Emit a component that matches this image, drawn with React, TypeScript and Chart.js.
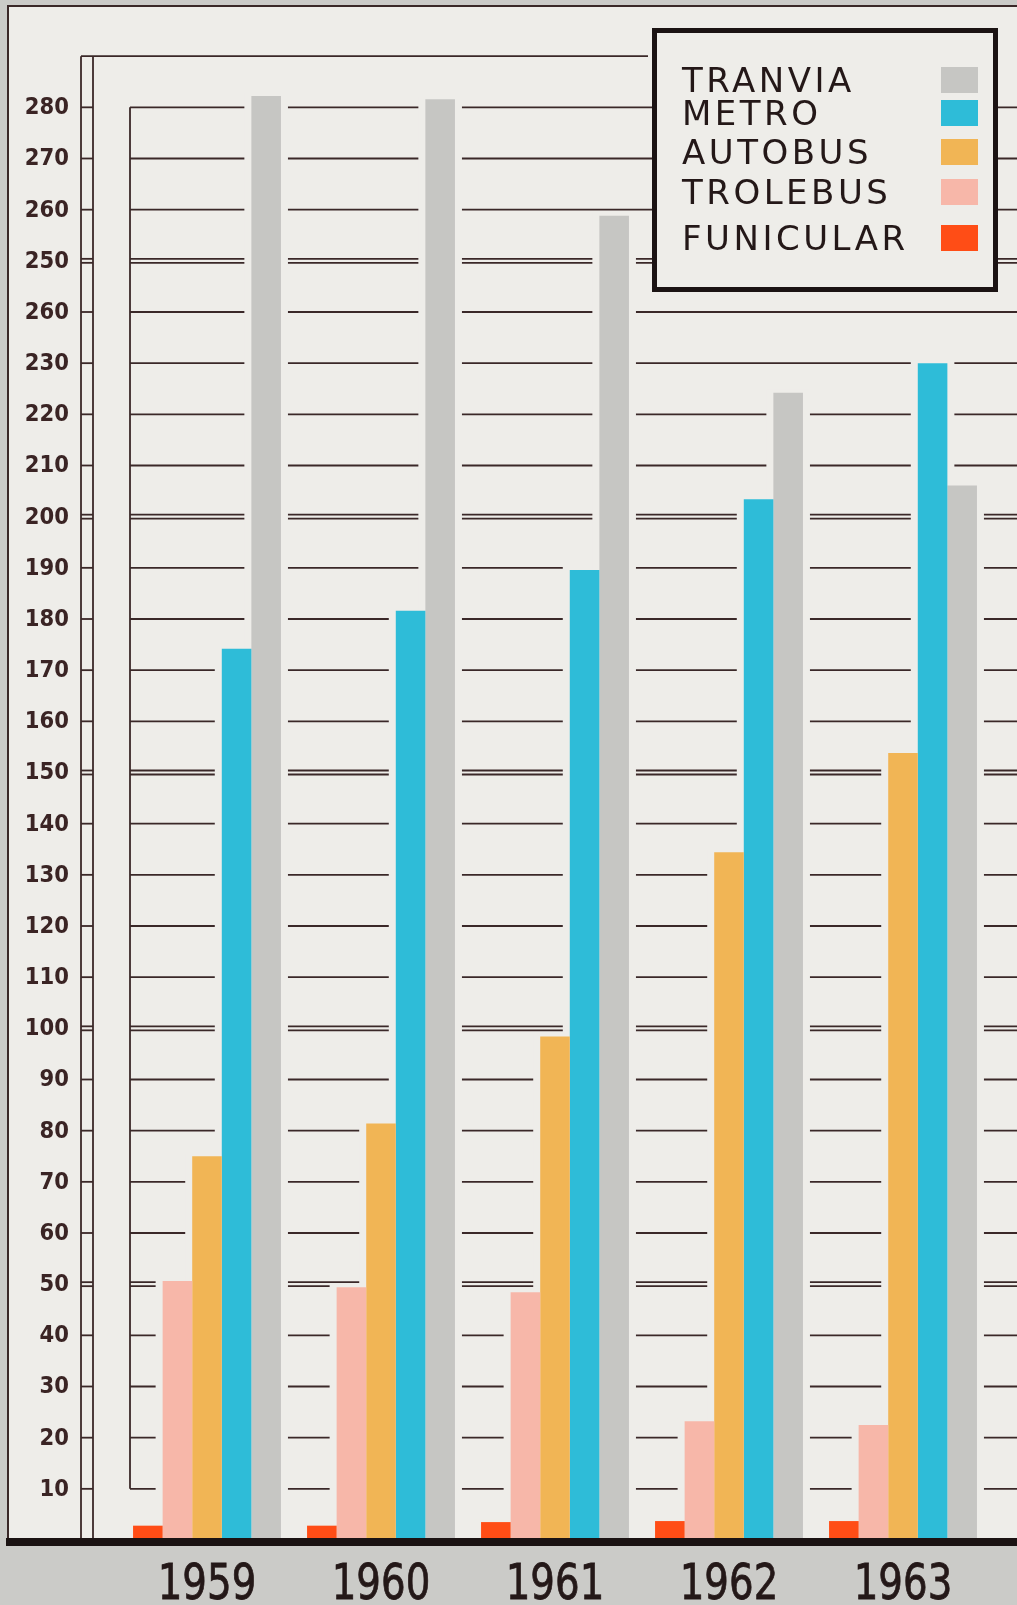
import React, { useEffect, useRef } from "react";
import { Chart, registerables } from "chart.js";

Chart.register(...registerables);

// ---------- data ----------
const years = ["1959", "1960", "1961", "1962", "1963"];
const funicular = [2.8, 2.8, 3.5, 3.7, 3.7];
const trolebus = [50.6, 49.4, 48.4, 23.2, 22.5];
const autobus = [75.0, 81.4, 98.4, 134.4, 153.8];
const metro = [174.2, 181.6, 189.6, 203.4, 230.0];
const tranvia = [282.2, 281.6, 258.8, 224.2, 206.1];

const seriesNames = ["FUNICULAR", "TROLEBUS", "AUTOBUS", "METRO", "TRANVIA"];
const seriesColors = ["#ff4d16", "#f7b7a9", "#f1b555", "#2ebcd8", "#c6c6c3"];

const yTickValues = [10, 20, 30, 40, 50, 60, 70, 80, 90, 100, 110, 120, 130, 140, 150, 160, 170, 180, 190, 200, 210, 220, 230, 240, 250, 260, 270, 280];
const yTickLabels = ["10", "20", "30", "40", "50", "60", "70", "80", "90", "100", "110", "120", "130", "140", "150", "160", "170", "180", "190", "200", "210", "220", "230", "260", "250", "260", "270", "280"];
const yTopLine = 290;

// ---------- style ----------
const W = 1017;
const H = 1605;
const INK = "#3a2828";
const PANEL = "#eeede9";
const OUTER = "#cbcbc8";

const paperPlugin = {
  id: "paper",
  beforeDraw(chart: any) {
    const ctx = chart.ctx;
    const y = chart.scales.y;
    const y0 = y.getPixelForValue(0);
    ctx.save();
    ctx.fillStyle = OUTER;
    ctx.fillRect(0, 0, W, H);
    ctx.fillStyle = PANEL;
    ctx.fillRect(8, 6, W - 8, y0 - 6);
    ctx.strokeStyle = INK;
    ctx.lineWidth = 2;
    ctx.beginPath();
    ctx.moveTo(8, y0);
    ctx.lineTo(8, 6);
    ctx.lineTo(W, 6);
    ctx.stroke();
    ctx.restore();
  },
  beforeDatasetsDraw(chart: any) {
    const ctx = chart.ctx;
    const y = chart.scales.y;
    const y0 = y.getPixelForValue(0);
    ctx.save();
    ctx.strokeStyle = INK;
    ctx.lineWidth = 1.8;
    const hline = (yy: number, x1: number, x2: number) => {
      ctx.beginPath();
      ctx.moveTo(x1, yy);
      ctx.lineTo(x2, yy);
      ctx.stroke();
    };
    const vline = (xx: number, y1: number, y2: number) => {
      ctx.beginPath();
      ctx.moveTo(xx, y1);
      ctx.lineTo(xx, y2);
      ctx.stroke();
    };
    // grid lines
    yTickValues.forEach((v) => {
      const py = y.getPixelForValue(v);
      if (v % 50 === 0) {
        hline(py - 2, 130, W);
        hline(py + 2, 130, W);
      } else {
        hline(py, 130, W);
      }
    });
    // paper-coloured halos around bars
    ctx.fillStyle = PANEL;
    chart.data.datasets.forEach((_ds: any, i: number) => {
      const meta = chart.getDatasetMeta(i);
      meta.data.forEach((el: any) => {
        const p = el.getProps(["x", "y", "base", "width"], true);
        ctx.fillRect(p.x - p.width / 2 - 7, p.y - 3, p.width + 14, p.base - p.y + 3);
      });
    });
    // inner bracket line
    vline(130, y.getPixelForValue(280), y.getPixelForValue(10));
    // left axis
    const yTop = y.getPixelForValue(yTopLine);
    vline(81, yTop, y0);
    vline(93, yTop, y0);
    hline(yTop, 81, 648);
    yTickValues.forEach((v) => {
      const py = y.getPixelForValue(v);
      if (v % 50 === 0) {
        hline(py - 2, 81, 93);
        hline(py + 2, 81, 93);
      } else {
        hline(py, 81, 93);
      }
    });
    // tick labels
    ctx.fillStyle = "#3a2424";
    ctx.font = "bold 23px 'DejaVu Sans'";
    ctx.textAlign = "right";
    ctx.textBaseline = "middle";
    yTickValues.forEach((v, i) => {
      ctx.save();
      ctx.translate(69, y.getPixelForValue(v) + 1);
      ctx.scale(0.92, 1);
      ctx.fillText(yTickLabels[i], 0, 0);
      ctx.restore();
    });
    ctx.restore();
  },
  afterDatasetsDraw(chart: any) {
    const ctx = chart.ctx;
    const x = chart.scales.x;
    const y = chart.scales.y;
    const y0 = y.getPixelForValue(0);
    ctx.save();
    // baseline
    ctx.fillStyle = "#1b1313";
    ctx.fillRect(6, y0 - 2, W - 6, 8);
    // legend box
    ctx.fillStyle = PANEL;
    ctx.fillRect(654, 30, 342, 260);
    ctx.strokeStyle = "#1b1313";
    ctx.lineWidth = 5;
    ctx.strokeRect(654.5, 30.5, 341, 259);
    const baselines = [92, 125, 164, 204, 250];
    ctx.font = "34px 'DejaVu Sans'";
    (ctx as any).letterSpacing = "3.5px";
    ctx.textAlign = "left";
    ctx.textBaseline = "alphabetic";
    const n = chart.data.datasets.length;
    for (let r = 0; r < n; r++) {
      const ds = chart.data.datasets[n - 1 - r];
      const bl = baselines[r];
      ctx.fillStyle = "#241818";
      ctx.fillText(ds.label, 682, bl);
      ctx.fillStyle = ds.backgroundColor;
      ctx.fillRect(941, bl - 25, 37, 26);
    }
    (ctx as any).letterSpacing = "0px";
    // year labels
    ctx.fillStyle = "#241818";
    ctx.font = "49px 'DejaVu Sans'";
    ctx.textAlign = "center";
    ctx.textBaseline = "alphabetic";
    years.forEach((lab, i) => {
      const px = x.getPixelForValue(i);
      ctx.save();
      ctx.translate(px, 1599);
      ctx.scale(0.79, 1);
      ctx.fillText(lab, 0, 0);
      ctx.lineWidth = 0.8;
      ctx.strokeStyle = "#241818";
      ctx.strokeText(lab, 0, 0);
      ctx.restore();
    });
    ctx.restore();
  },
};

export default function App() {
  const ref = useRef<HTMLCanvasElement | null>(null);
  useEffect(() => {
    if (!ref.current) return;
    const series = [funicular, trolebus, autobus, metro, tranvia];
    const chart = new Chart(ref.current, {
      type: "bar",
      data: {
        labels: years,
        datasets: series.map((d, i) => ({
          label: seriesNames[i],
          data: d,
          backgroundColor: seriesColors[i],
          borderWidth: 0,
          barPercentage: 1,
          categoryPercentage: 0.85,
        })),
      },
      options: {
        responsive: false,
        maintainAspectRatio: false,
        animation: false,
        devicePixelRatio: 1,
        layout: { padding: { left: 120, right: 27, top: 5, bottom: 65 } },
        plugins: { legend: { display: false }, tooltip: { enabled: false } },
        scales: {
          x: { display: false },
          y: { display: false, min: 0, max: 300 },
        },
      },
      plugins: [paperPlugin],
    });
    return () => chart.destroy();
  }, []);
  return (
    <div style={{ position: "absolute", left: 0, top: 0, width: W, height: H }}>
      <canvas ref={ref} width={W} height={H} style={{ width: W, height: H, display: "block" }} />
    </div>
  );
}
